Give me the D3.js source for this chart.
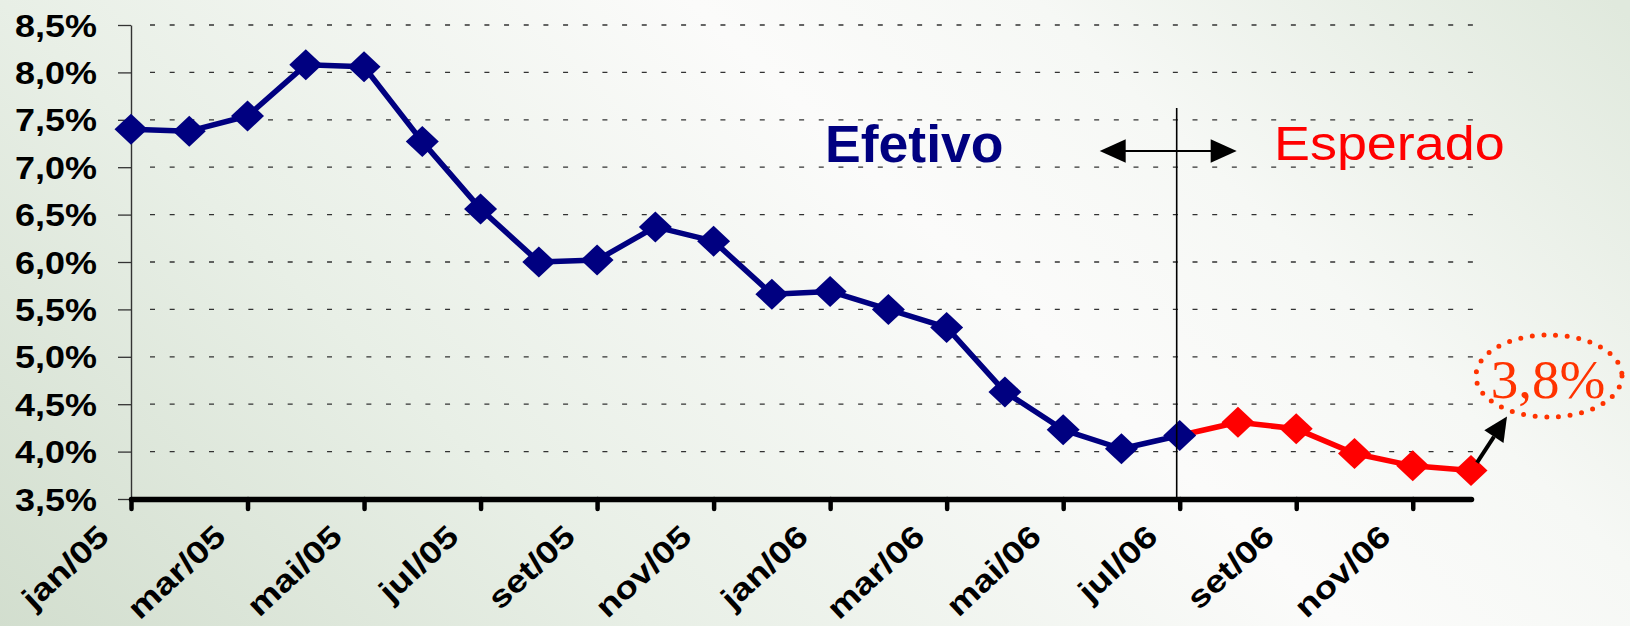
<!DOCTYPE html>
<html>
<head>
<meta charset="utf-8">
<script src="https://cdn.jsdelivr.net/npm/d3@7"></script>
<style>
  body { margin: 0; background: #fff; }
  svg { display: block; }
</style>
</head>
<body>
<div id="chart"></div>
<script>
// months on the x axis
const months = ['jan/05','fev/05','mar/05','abr/05','mai/05','jun/05','jul/05','ago/05','set/05','out/05','nov/05','dez/05',
                'jan/06','fev/06','mar/06','abr/06','mai/06','jun/06','jul/06','ago/06','set/06','out/06','nov/06','dez/06']
// realised rate (jan/05 - jul/06)
const efetivo = [7.40, 7.38, 7.54, 8.08, 8.06, 7.27, 6.56, 6.00, 6.02, 6.37, 6.22, 5.66,
                 5.69, 5.50, 5.31, 4.63, 4.23, 4.03, 4.17]
// expected rate (jul/06 - dez/06)
const esperado = [4.17, 4.31, 4.24, 3.98, 3.85, 3.80]
const yTicks = [3.5, 4.0, 4.5, 5.0, 5.5, 6.0, 6.5, 7.0, 7.5, 8.0, 8.5]
const xTicks = months.filter((d, i) => i % 2 === 0)

const efData = efetivo.map((v, i) => ({ m: months[i], v: v }))
const esData = esperado.map((v, i) => ({ m: months[i + efetivo.length - 1], v: v }))

const svg = d3.select('#chart')
              .append('svg')
              .attr('width', 1630)
              .attr('height', 626)

// background
const defs = svg.append('defs')
const grad = defs.append('linearGradient')
                 .attr('id', 'bg')
                 .attr('gradientUnits', 'userSpaceOnUse')
                 .attr('x1', 250).attr('y1', 900)
                 .attr('x2', 1350).attr('y2', -250)
grad.append('stop').attr('offset', 0).attr('stop-color', '#d1ddcd')
grad.append('stop').attr('offset', 0.3).attr('stop-color', '#e8efe6')
grad.append('stop').attr('offset', 0.6).attr('stop-color', '#fbfbfa')
grad.append('stop').attr('offset', 0.75).attr('stop-color', '#f6f8f5')
grad.append('stop').attr('offset', 1).attr('stop-color', '#e0e9dd')
svg.append('rect').attr('width', 1630).attr('height', 626).attr('fill', 'url(#bg)')

const x = d3.scalePoint().domain(months).range([131, 1471])
const y = d3.scaleLinear().domain([3.5, 8.5]).range([499, 25])

// dashed grid
svg.selectAll('.grid')
    .data(yTicks.slice(1))
    .enter()
    .append('line')
    .attr('class', 'grid')
    .attr('x1', 150)
    .attr('x2', 1474)
    .attr('y1', d => y(d))
    .attr('y2', d => y(d))
    .attr('stroke', '#333')
    .attr('stroke-width', 1.3)
    .attr('stroke-dasharray', '5 14.67')

// y axis
const sxY = 1.16
const yAxis = svg.append('g')
    .attr('transform', 'translate(131,0)')
    .call(d3.axisLeft(y)
            .tickValues(yTicks)
            .tickSize(13)
            .tickSizeOuter(0)
            .tickFormat(d => d.toFixed(1).replace('.', ',') + '%'))
yAxis.select('.domain').attr('stroke', '#333').attr('stroke-width', 1.4)
yAxis.selectAll('.tick line').attr('stroke', '#333').attr('stroke-width', 1.3)
yAxis.selectAll('.tick text')
    .attr('x', -34 / sxY)
    .attr('dy', '0.36em')
    .attr('transform', `scale(${sxY},1)`)
    .style('font-family', '"Liberation Sans", Arial, sans-serif')
    .style('font-size', '31px')
    .style('font-weight', 'bold')
    .attr('fill', '#000')

// x axis
const xAxis = svg.append('g')
    .attr('transform', 'translate(0,499)')
    .call(d3.axisBottom(x)
            .tickValues(xTicks)
            .tickSize(10)
            .tickSizeOuter(0)
            .tickFormat(''))
xAxis.select('.domain')
    .attr('stroke', '#000')
    .attr('stroke-width', 5.5)
    .attr('stroke-linecap', 'round')
xAxis.selectAll('.tick line')
    .attr('stroke', '#000')
    .attr('stroke-width', 4.5)
    .attr('stroke-linecap', 'round')

svg.selectAll('.xlab')
    .data(xTicks)
    .enter()
    .append('text')
    .attr('class', 'xlab')
    .attr('transform', d => `translate(${x(d) - 20},539) rotate(-43) scale(1.2,1)`)
    .attr('text-anchor', 'end')
    .style('font-family', '"Liberation Sans", Arial, sans-serif')
    .style('font-size', '31px')
    .style('font-weight', 'bold')
    .text(d => d)

// lines
const line = d3.line().x(d => x(d.m)).y(d => y(d.v))
svg.append('path')
    .datum(efData)
    .attr('d', line)
    .attr('fill', 'none')
    .attr('stroke', '#000080')
    .attr('stroke-width', 5.5)
    .attr('stroke-linejoin', 'round')
svg.append('path')
    .datum(esData)
    .attr('d', line)
    .attr('fill', 'none')
    .attr('stroke', '#ff0000')
    .attr('stroke-width', 5.5)
    .attr('stroke-linejoin', 'round')

// diamond markers
const diamond = 'M0,-15.5L16.5,0L0,15.5L-16.5,0Z'
svg.selectAll('.mk-es')
    .data(esData.slice(1))
    .enter()
    .append('path')
    .attr('class', 'mk-es')
    .attr('d', diamond)
    .attr('transform', d => `translate(${x(d.m)},${y(d.v)})`)
    .attr('fill', '#ff0000')
svg.selectAll('.mk-ef')
    .data(efData)
    .enter()
    .append('path')
    .attr('class', 'mk-ef')
    .attr('d', diamond)
    .attr('transform', d => `translate(${x(d.m)},${y(d.v)})`)
    .attr('fill', '#000080')

// split line between realised and expected
const xs = x('jul/06') - 3
svg.append('line')
    .attr('x1', xs).attr('x2', xs)
    .attr('y1', 108).attr('y2', 499)
    .attr('stroke', '#000')
    .attr('stroke-width', 1.6)

// double arrow
svg.append('line')
    .attr('x1', xs - 52).attr('x2', xs + 35)
    .attr('y1', 151).attr('y2', 151)
    .attr('stroke', '#000')
    .attr('stroke-width', 2.2)
svg.append('path')
    .attr('d', `M${xs - 77},151L${xs - 51},139.3L${xs - 51},162.7Z`)
    .attr('fill', '#000')
svg.append('path')
    .attr('d', `M${xs + 60},151L${xs + 34},139.3L${xs + 34},162.7Z`)
    .attr('fill', '#000')

svg.append('text')
    .attr('transform', 'translate(825,161.5) scale(1.05,1)')
    .style('font-family', '"Liberation Sans", Arial, sans-serif')
    .style('font-size', '51px')
    .style('font-weight', 'bold')
    .attr('fill', '#000080')
    .text('Efetivo')

svg.append('text')
    .attr('transform', 'translate(1274,160) scale(1.1,1)')
    .style('font-family', '"Liberation Sans", Arial, sans-serif')
    .style('font-size', '49px')
    .attr('fill', '#ff0000')
    .text('Esperado')

// last value callout
const last = esData[esData.length - 1]
const lx = x(last.m) + 6
const ly = y(last.v) - 8
svg.append('line')
    .attr('x1', lx).attr('y1', ly)
    .attr('x2', lx + 17).attr('y2', ly - 26)
    .attr('stroke', '#000')
    .attr('stroke-width', 4)
svg.append('path')
    .attr('d', `M${lx + 30},${ly - 46}L${lx + 26.5},${ly - 19.6}L${lx + 7.3},${ly - 32.2}Z`)
    .attr('fill', '#000')

svg.append('ellipse')
    .attr('cx', 1549).attr('cy', 376)
    .attr('rx', 73).attr('ry', 41)
    .attr('fill', 'none')
    .attr('stroke', '#ff3300')
    .attr('stroke-width', 5)
    .attr('stroke-linecap', 'round')
    .attr('stroke-dasharray', '0 11.67')

svg.append('text')
    .attr('x', 1548)
    .attr('y', 398)
    .attr('text-anchor', 'middle')
    .style('font-family', '"Liberation Serif", "Times New Roman", serif')
    .style('font-size', '55px')
    .attr('fill', '#ff3300')
    .text(last.v.toFixed(1).replace('.', ',') + '%')
</script>
</body>
</html>
